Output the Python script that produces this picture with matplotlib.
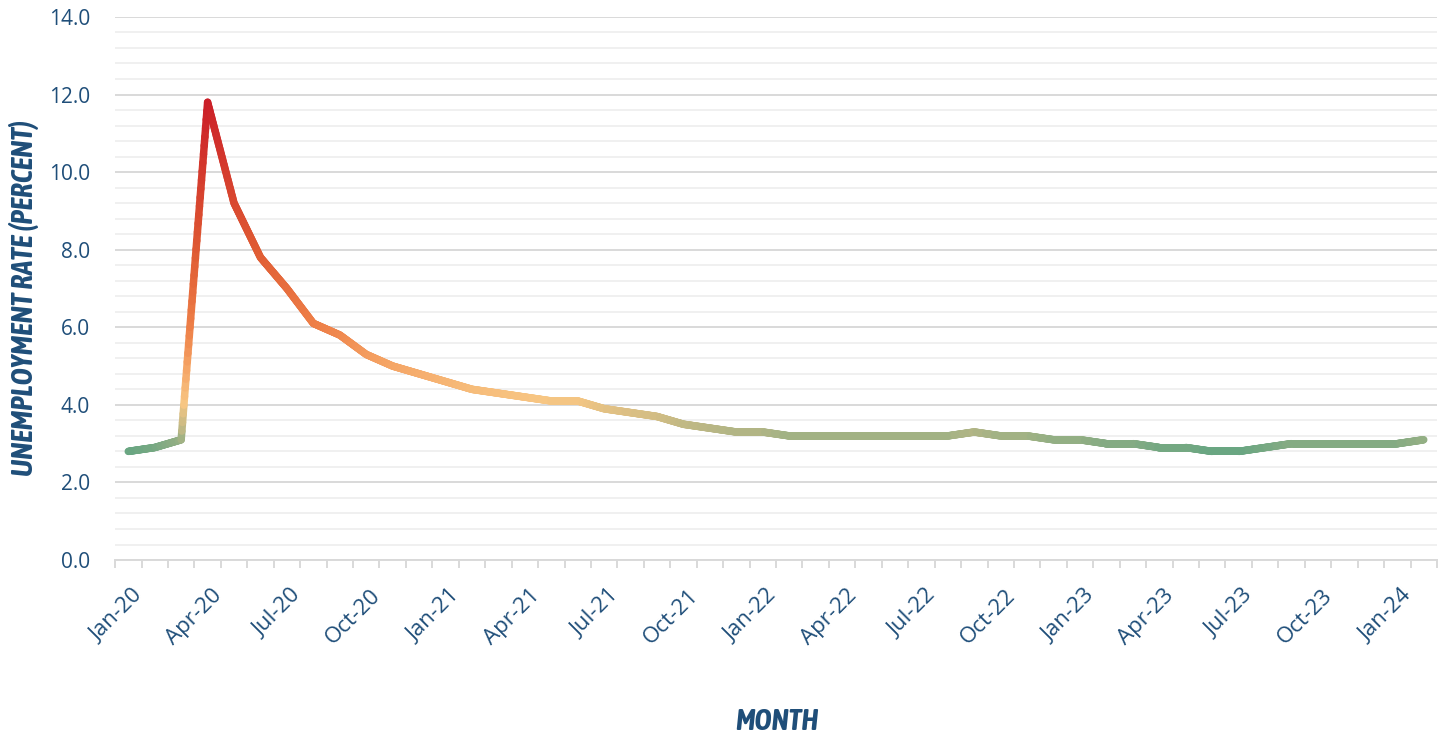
import numpy as np
import matplotlib
matplotlib.use("Agg")
import matplotlib.pyplot as plt
import matplotlib.transforms as mtransforms
from matplotlib.collections import LineCollection
from matplotlib.colors import LinearSegmentedColormap, Normalize

# --- данные: уровень безработицы по месяцам, Jan-20 .. Feb-24 ---
months = ["Jan-20", "Feb-20", "Mar-20", "Apr-20", "May-20", "Jun-20", "Jul-20", "Aug-20",
          "Sep-20", "Oct-20", "Nov-20", "Dec-20", "Jan-21", "Feb-21", "Mar-21", "Apr-21",
          "May-21", "Jun-21", "Jul-21", "Aug-21", "Sep-21", "Oct-21", "Nov-21", "Dec-21",
          "Jan-22", "Feb-22", "Mar-22", "Apr-22", "May-22", "Jun-22", "Jul-22", "Aug-22",
          "Sep-22", "Oct-22", "Nov-22", "Dec-22", "Jan-23", "Feb-23", "Mar-23", "Apr-23",
          "May-23", "Jun-23", "Jul-23", "Aug-23", "Sep-23", "Oct-23", "Nov-23", "Dec-23",
          "Jan-24", "Feb-24"]
rate = [2.8, 2.9, 3.1, 11.8, 9.2, 7.8, 7.0, 6.1,
        5.8, 5.3, 5.0, 4.8, 4.6, 4.4, 4.3, 4.2,
        4.1, 4.1, 3.9, 3.8, 3.7, 3.5, 3.4, 3.3,
        3.3, 3.2, 3.2, 3.2, 3.2, 3.2, 3.2, 3.2,
        3.3, 3.2, 3.2, 3.1, 3.1, 3.0, 3.0, 2.9,
        2.9, 2.8, 2.8, 2.9, 3.0, 3.0, 3.0, 3.0,
        3.0, 3.1]
yticks = [0, 2, 4, 6, 8, 10, 12, 14]

BLUE = "#1f4e79"
TICK_FONT = ["Open Sans", "DejaVu Sans"]
cmap = LinearSegmentedColormap.from_list("unemp", [
    (0.00, "#6aa682"),
    (0.055, "#b2b585"),
    (0.145, "#f7c683"),
    (0.245, "#f5a566"),
    (0.355, "#ee8048"),
    (0.58, "#df5a33"),
    (1.00, "#cb1f28"),
])
norm = Normalize(min(rate), max(rate))

fig = plt.figure(figsize=(14.42, 7.36), dpi=100)
ax = fig.add_axes([0.0798, 0.2391, 0.9167, 0.7379])

# --- линия с градиентом по значению (отрезки дробятся только для плавного цвета) ---
x = np.arange(len(rate))
y = np.array(rate)
segs, vals = [], []
for i in range(len(rate) - 1):
    t = np.linspace(0, 1, 40)
    xs = x[i] + (x[i + 1] - x[i]) * t
    ys = y[i] + (y[i + 1] - y[i]) * t
    pts = np.column_stack([xs, ys])
    for j in range(len(t) - 1):
        segs.append(pts[j:j + 2])
        vals.append((ys[j] + ys[j + 1]) / 2)
lc = LineCollection(segs, cmap=cmap, norm=norm, linewidths=5.4, capstyle="round", joinstyle="round", zorder=3)
lc.set_array(np.array(vals))
ax.add_collection(lc)

ax.set_xlim(-0.5, len(rate) - 0.5)
ax.set_ylim(0, 14)

# --- сетка и оси ---
ax.set_yticks(yticks)
ax.set_yticks(np.arange(0, 14.01, 0.4), minor=True)
ax.yaxis.grid(True, which="major", color="#d9d9d9", lw=1.4)
ax.yaxis.grid(True, which="minor", color="#f0f0f0", lw=1.4)
ax.set_axisbelow(True)
ax.set_yticklabels([f"{v:.1f}" for v in yticks], color=BLUE, fontsize=15, family=TICK_FONT)
ax.tick_params(axis="y", which="both", length=0, pad=18)

ax.set_xticks(x[::3])
ax.set_xticklabels(months[::3], rotation=45, ha="right", rotation_mode="anchor",
                   color=BLUE, fontsize=16, family=TICK_FONT)
ax.set_xticks(np.arange(-0.5, len(rate), 1), minor=True)
ax.tick_params(axis="x", which="major", length=0, pad=18)
ax.tick_params(axis="x", which="minor", length=6, color="#d9d9d9", width=1.4)
shift = mtransforms.ScaledTranslation(0.04, 0, fig.dpi_scale_trans)
for lab in ax.get_xticklabels():
    lab.set_transform(lab.get_transform() + shift)

for s in ["top", "right", "left"]:
    ax.spines[s].set_visible(False)
ax.spines["bottom"].set_color("#d9d9d9")
ax.spines["bottom"].set_linewidth(1.4)

lab_font = dict(family=["Asap Condensed", "Barlow Condensed", "DejaVu Sans"], fontweight="bold",
                fontstyle="italic", color=BLUE, fontsize=21)
fig.text(0.0165, 0.595, "UNEMPLOYMENT RATE (PERCENT)", rotation=90, ha="center", va="center", **lab_font)
fig.text(0.5385, 0.0195, "MONTH", ha="center", va="center", **lab_font)

fig.savefig("out.png", dpi=100)
